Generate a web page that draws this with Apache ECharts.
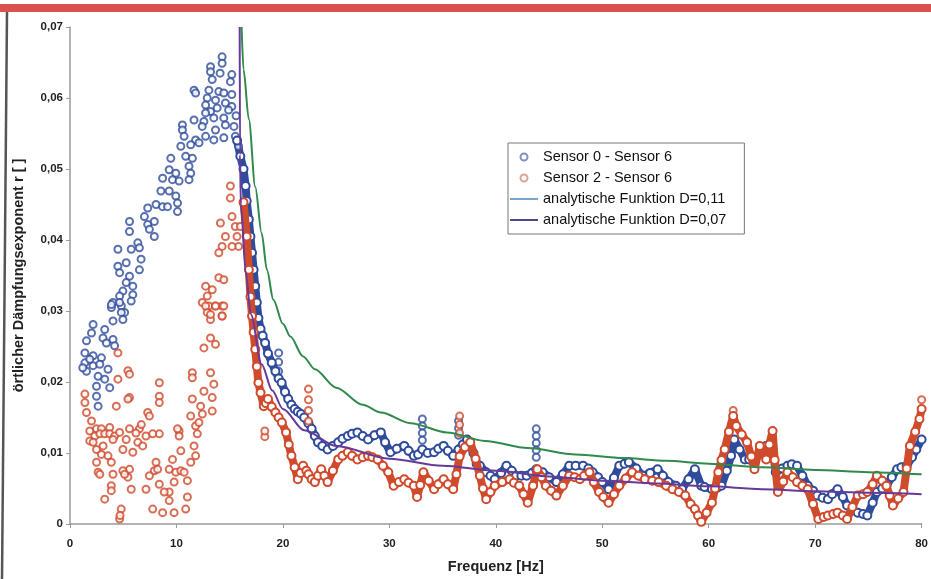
<!DOCTYPE html>
<html>
<head>
<meta charset="utf-8">
<script src="https://cdn.jsdelivr.net/npm/echarts@6/dist/echarts.min.js"></script>
<style>html,body{margin:0;padding:0;background:#fff;}#c{width:931px;height:579px;}</style>
</head>
<body>
<div id="c"></div>
<script>
// ---- data (frequency Hz, damping exponent r) ----
const seriesNames = ['Sensor 0 - Sensor 6', 'Sensor 2 - Sensor 6', 'analytische Funktion D=0,11', 'analytische Funktion D=0,07'];

const blueCloud = [
[14.29,0.0658],[14.29,0.0649],[13.2,0.0644],[13.2,0.0637],[14.1,0.0635],[13.36,0.0626],[15.2,0.0633],[15.07,0.0623],
[11.65,0.0611],[11.8,0.0607],[13.05,0.0611],[13.98,0.0609],[14.45,0.0607],[12.89,0.0600],[13.67,0.0597],[12.74,0.0590],
[14.6,0.0593],[15.2,0.0588],[14.9,0.0583],[13.82,0.0586],[13.2,0.0581],[12.74,0.0579],[11.65,0.0569],[12.58,0.0567],
[13.51,0.0572],[14.45,0.0572],[10.56,0.0562],[10.56,0.0555],[12.42,0.0560],[13.67,0.0555],[14.6,0.0562],[10.72,0.0546],
[11.8,0.0541],[12.74,0.0546],[13.51,0.0541],[14.45,0.0544],[10.41,0.0532],[11.34,0.0534],[12.12,0.0537],[9.47,0.0515],
[10.87,0.0518],[11.5,0.0515],[11.18,0.0504],[11.34,0.0494],[11.18,0.0485],[9.32,0.0499],[9.94,0.0494],[8.7,0.0487],
[9.63,0.0485],[10.25,0.0483],[8.54,0.0469],[9.32,0.0469],[9.94,0.0462],[8.08,0.0450],[8.7,0.0447],[9.16,0.0447],
[10.1,0.0452],[10.1,0.0440],[7.3,0.0445],[6.99,0.0433],[7.3,0.0422],[7.92,0.0426],[7.92,0.0405],[7.46,0.0415],
[5.59,0.0426],[5.59,0.0412],[6.37,0.0396],[6.52,0.0389],[5.75,0.0387],[4.5,0.0387],[6.68,0.0373],[4.5,0.0363],
[5.28,0.0368],[6.52,0.0358],[4.66,0.0354],[5.59,0.0349],[5.28,0.0340],[5.9,0.0335],[4.97,0.0328],[5.9,0.0323],
[4.66,0.0321],[4.04,0.0312],[3.89,0.0305],[4.82,0.0307],[5.13,0.0298],
[3.89,0.0309],[4.66,0.0312],[5.75,0.0314],[4.82,0.0298],[4.97,0.0288],[4.04,0.0286],[2.17,0.0281],[2.02,0.0269],
[3.26,0.0274],[3.1,0.0262],[4.04,0.0260],[4.19,0.0251],[1.55,0.0258],[3.42,0.0255],[1.4,0.0241],[2.17,0.0237],
[2.95,0.0234],[1.4,0.0227],[2.17,0.0223],[1.55,0.0215],[3.57,0.0218],[2.64,0.0208],[3.26,0.0204],[3.73,0.0192],
[2.49,0.0194],[2.49,0.0180],[2.64,0.0166],[1.86,0.0232],[1.2,0.0220],[2.8,0.0225],
[15.4,0.0560],[15.53,0.0546],[15.84,0.0532],[15.6,0.0575],[15.2,0.0605],
// spikes in the dense trace
[19.6,0.0241],[19.6,0.0228],[19.6,0.0215],[33.1,0.0148],[33.1,0.0138],[33.1,0.0128],[33.1,0.0118],
[36.5,0.0145],[36.5,0.0135],[36.5,0.0125],[43.8,0.0134],[43.8,0.0124],[43.8,0.0114],[43.8,0.0104],[43.8,0.0094]
];

const blueTrace = [
[15.7,0.0540],[16.0,0.0518],[16.3,0.0500],[16.5,0.0476],[16.6,0.0455],[16.8,0.0429],[16.95,0.0405],[17.1,0.0382],
[17.25,0.0358],[17.4,0.0335],[17.55,0.0312],[17.7,0.0290],[17.9,0.0275],[18.1,0.0265],[18.33,0.0255],[18.6,0.0240],
[18.95,0.0227],[19.3,0.0215],[19.6,0.0205],[19.88,0.0199],[20.2,0.0186],[20.5,0.0176],[20.8,0.0168],[21.1,0.0162],
[21.4,0.0158],[21.7,0.0155],[22.0,0.0150],[22.4,0.0142],[22.7,0.0134],[23.0,0.0124],[23.3,0.0115],[23.7,0.0110],
[24.2,0.0105],[24.7,0.0110],[25.2,0.0115],[25.6,0.0120],[26.1,0.0124],[26.5,0.0127],[27.0,0.0129],[27.5,0.0124],
[28.0,0.0119],[28.6,0.0125],[29.2,0.0129],[29.6,0.0115],[30.1,0.0101],[30.7,0.0106],[31.4,0.0110],[31.8,0.0103],
[32.3,0.0096],[32.7,0.0098],[33.1,0.0105],[33.6,0.0100],[34.2,0.0101],[34.6,0.0106],[35.1,0.0110],[35.5,0.0103],
[36.0,0.0096],[36.5,0.0105],[36.9,0.0112],[37.3,0.0119],[37.9,0.0100],[38.2,0.0085],[38.5,0.0082],[39.1,0.0073],
[39.5,0.0068],[39.9,0.0063],[40.5,0.0072],[41.0,0.0082],[41.5,0.0075],[41.9,0.0068],[42.4,0.0068],[42.9,0.0068],
[43.4,0.0072],[43.8,0.0077],[44.4,0.0073],[45.0,0.0066],[45.7,0.0059],[46.3,0.0070],[46.9,0.0082],[47.5,0.0082],
[48.2,0.0082],[48.7,0.0078],[49.1,0.0073],[49.6,0.0066],[50.0,0.0059],[50.6,0.0049],[51.1,0.0065],[51.6,0.0082],
[52.1,0.0085],[52.5,0.0087],[53.2,0.0078],[53.8,0.0068],[54.5,0.0072],[55.2,0.0077],[55.7,0.0068],[56.2,0.0059],
[56.9,0.0054],[57.5,0.0049],[58.1,0.0063],[58.7,0.0077],[59.3,0.0054],[59.6,0.0052],[60.3,0.0049],[60.8,0.0051],
[61.2,0.0054],[61.7,0.0075],[62.1,0.0096],[62.4,0.0119],[62.9,0.0105],[63.4,0.0091],[63.8,0.0091],[64.3,0.0091],
[64.9,0.0105],[65.4,0.0110],[65.9,0.0115],[66.3,0.0073],[66.9,0.0078],[67.4,0.0082],[67.8,0.0084],[68.3,0.0082],
[68.8,0.0068],[69.3,0.0054],[69.8,0.0047],[70.2,0.0040],[70.7,0.0037],[71.2,0.0035],[71.6,0.0042],[72.1,0.0049],
[72.6,0.0038],[73.0,0.0026],[73.5,0.0020],[74.0,0.0016],[74.5,0.0014],[74.9,0.0012],[75.4,0.0030],[75.8,0.0045],
[76.3,0.0050],[76.7,0.0054],[77.2,0.0066],[77.7,0.0077],[78.1,0.0080],[78.6,0.0082],[79.1,0.0094],[79.5,0.0105],
[80.0,0.0119]
];

const redCloud = [
[12.43,0.0312],[13.05,0.0307],[13.67,0.0307],[14.29,0.0307],[12.89,0.0298],[13.2,0.0288],[14.29,0.0293],[13.2,0.0262],
[13.67,0.0253],[12.58,0.0248],[11.49,0.0213],[11.49,0.0206],[13.2,0.0213],[13.51,0.0197],[12.58,0.0187],[13.36,0.0178],
[13.36,0.0159],[11.49,0.0176],[12.27,0.0166],[12.43,0.0155],[11.34,0.0152],[11.8,0.0138],[12.11,0.0143],[11.96,0.0127],
[11.65,0.0110],[11.8,0.0096],[11.34,0.0087],[10.41,0.0103],[10.25,0.0131],[10.25,0.0124],[10.1,0.0134],[9.63,0.0091],
[9.32,0.0077],[9.94,0.0073],[10.41,0.0075],[10.72,0.0073],[11.03,0.0061],[9.78,0.0059],[9.32,0.0045],[8.85,0.0045],
[11.03,0.0038],[10.87,0.0021],[9.32,0.0033],[9.78,0.0016],[8.7,0.0016],[7.77,0.0021],[8.39,0.0056],[8.08,0.0087],
[7.92,0.0075],[7.46,0.0068],[7.14,0.0049],[8.23,0.0077],[8.39,0.0199],[8.39,0.0180],[8.39,0.0171],[7.3,0.0157],
[7.46,0.0152],[6.52,0.0134],[7.14,0.0124],[8.39,0.0127],[6.37,0.0115],[5.9,0.0101],[5.59,0.0134],[5.28,0.0119],
[6.83,0.0110],[7.77,0.0127],[4.97,0.0105],[5.59,0.0077],[5.44,0.0066],[5.75,0.0049],[4.97,0.0075],[5.13,0.0070],
[4.5,0.0241],[5.44,0.0216],[5.59,0.0211],[4.5,0.0204],[5.59,0.0178],[5.44,0.0176],[4.35,0.0166],[2.49,0.0105],
[2.95,0.0098],[3.57,0.0096],[2.49,0.0087],[3.88,0.0087],[2.64,0.0073],[2.8,0.0070],[4.04,0.0070],[3.88,0.0054],
[3.88,0.0047],[3.26,0.0035],[4.81,0.0021],[4.66,0.0007],[4.7,0.0012],[1.4,0.0183],[1.4,0.0171],[1.55,0.0157],[2.02,0.0145],
[1.86,0.0131],[2.49,0.0134],[2.95,0.0134],[3.73,0.0136],[2.33,0.0124],[2.8,0.0127],[3.26,0.0127],[3.73,0.0127],
[4.19,0.0124],[4.66,0.0129],[1.86,0.0117],[2.17,0.0115],[3.11,0.0110],[4.04,0.0119],[6.2,0.0128],[6.7,0.0140],
[15.07,0.0476],[15.07,0.0459],[14.13,0.0424],[15.22,0.0433],[15.53,0.0419],[14.6,0.0405],[14.29,0.0391],[13.98,0.0382],
[15.69,0.0405],[15.84,0.0391],[16.0,0.0419],[15.22,0.0391],[12.74,0.0335],[12.89,0.0321],[13.98,0.0347],[14.45,0.0344],
[13.36,0.0330],[12.74,0.0307],[13.67,0.0307],[14.45,0.0307],[13.2,0.0295],[14.29,0.0293],
// spikes in the dense trace
[18.3,0.0123],[18.3,0.0131],[22.4,0.0190],[22.4,0.0175],[22.4,0.0160],[22.4,0.0145],[36.6,0.0152],[36.6,0.0140],
[36.6,0.0128],[62.3,0.0160],[80.0,0.0175]
];

const redTrace = [
[16.3,0.0453],[16.6,0.0405],[16.8,0.0358],[16.95,0.0320],[17.1,0.0293],[17.25,0.0270],[17.4,0.0246],[17.55,0.0222],
[17.7,0.0199],[17.9,0.0185],[18.2,0.0166],[18.4,0.0170],[18.6,0.0176],[18.95,0.0165],[19.3,0.0157],[19.6,0.0150],
[19.9,0.0143],[20.3,0.0129],[20.55,0.0112],[20.8,0.0096],[21.1,0.0080],[21.4,0.0063],[21.65,0.0072],[21.9,0.0082],
[22.2,0.0075],[22.4,0.0070],[22.7,0.0063],[23.0,0.0059],[23.3,0.0068],[23.6,0.0077],[23.9,0.0068],[24.2,0.0059],
[24.7,0.0075],[25.2,0.0091],[25.6,0.0096],[26.1,0.0101],[26.5,0.0096],[27.0,0.0091],[27.5,0.0094],[28.0,0.0096],
[28.4,0.0094],[28.9,0.0091],[29.4,0.0082],[29.9,0.0073],[30.4,0.0054],[30.9,0.0059],[31.4,0.0063],[31.8,0.0058],
[32.3,0.0054],[32.6,0.0038],[32.9,0.0055],[33.2,0.0073],[33.7,0.0061],[34.2,0.0049],[34.6,0.0056],[35.1,0.0063],
[35.5,0.0056],[36.0,0.0049],[36.3,0.0070],[36.6,0.0095],[37.1,0.0108],[37.6,0.0115],[38.1,0.0092],[38.5,0.0068],
[38.8,0.0050],[39.1,0.0035],[39.5,0.0045],[39.9,0.0054],[40.6,0.0059],[41.3,0.0063],[41.7,0.0058],[42.2,0.0054],
[42.6,0.0042],[43.0,0.0030],[43.5,0.0054],[43.9,0.0077],[44.3,0.0066],[44.7,0.0054],[45.2,0.0047],[45.7,0.0040],
[46.3,0.0054],[46.9,0.0068],[47.4,0.0066],[47.9,0.0063],[48.3,0.0068],[48.8,0.0073],[49.2,0.0059],[49.7,0.0045],
[50.1,0.0038],[50.6,0.0030],[51.1,0.0042],[51.6,0.0054],[52.2,0.0064],[52.8,0.0073],[53.4,0.0068],[54.0,0.0063],
[54.7,0.0061],[55.3,0.0059],[56.0,0.0054],[56.6,0.0049],[57.2,0.0045],[57.8,0.0040],[58.3,0.0028],[58.7,0.0021],
[59.0,0.0012],[59.3,0.0003],[59.8,0.0016],[60.3,0.0030],[60.6,0.0050],[60.9,0.0073],[61.2,0.0090],[61.5,0.0105],
[61.9,0.0130],[62.3,0.0152],[62.6,0.0138],[63.1,0.0126],[63.6,0.0115],[64.0,0.0095],[64.3,0.0077],[64.8,0.0110],
[65.4,0.0091],[65.7,0.0112],[66.0,0.0131],[66.2,0.0090],[66.5,0.0045],[67.0,0.0060],[67.4,0.0073],[67.9,0.0066],
[68.3,0.0059],[68.8,0.0054],[69.3,0.0049],[69.8,0.0028],[70.3,0.0007],[70.8,0.0010],[71.2,0.0012],[71.7,0.0014],
[72.1,0.0016],[72.6,0.0012],[73.0,0.0007],[73.5,0.0024],[74.0,0.0040],[74.5,0.0042],[74.9,0.0045],[75.4,0.0056],
[75.8,0.0068],[76.3,0.0061],[76.7,0.0054],[77.0,0.0040],[77.3,0.0026],[77.8,0.0036],[78.3,0.0045],[78.6,0.0078],
[78.9,0.0110],[79.4,0.0130],[79.8,0.0148],[80.0,0.0162]
];

const curveD011 = [
[16.12,0.0700],[16.3,0.0640],[16.8,0.0570],[17.4,0.0475],[18.0,0.0410],[18.5,0.0358],[19.1,0.0316],[20.0,0.0282],
[20.7,0.0264],[21.9,0.0236],[23.0,0.0218],[25.0,0.0192],[27.5,0.0168],[29.2,0.0157],[32.0,0.0142],[35.4,0.0129],
[39.0,0.0117],[43.0,0.0107],[47.5,0.0098],[52.0,0.0093],[56.0,0.0089],[60.0,0.0085],[65.0,0.0080],[70.0,0.0076],
[75.0,0.0073],[80.0,0.0070]
];

const curveD007 = [
[15.94,0.0700],[15.97,0.0520],[16.05,0.0450],[16.5,0.0355],[17.0,0.0295],[18.0,0.0225],[19.0,0.0188],[20.0,0.0162],
[22.0,0.0132],[25.0,0.0110],[30.0,0.0092],[35.0,0.0082],[40.0,0.0075],[45.0,0.0067],[50.0,0.0061],[55.0,0.0057],
[60.0,0.0053],[65.0,0.0049],[70.0,0.0046],[75.0,0.0044],[80.0,0.0042]
];

const xAxisTitle = 'Frequenz [Hz]';
const yAxisTitle = 'örtlicher Dämpfungsexponent r [ ]';

// ---- styling ----
const BLUE = '#2f4c9c', RED = '#d04a2c', GREEN = '#2f8a4c', PURPLE = '#66399a';
const FONT = '"Liberation Sans", Arial, sans-serif';
const LINE_ICON = 'path://M0,0H30V2H0Z';

const chart = echarts.init(document.getElementById('c'), null, {renderer: 'canvas'});
chart.setOption({
  animation: false,
  backgroundColor: '#fff',
  grid: {left: 70, right: 3, top: 27, bottom: 54, containLabel: false},
  graphic: [
    {type: 'rect', left: 0, top: 4, shape: {width: 931, height: 8}, style: {fill: '#d9544e'}, z: 10},
    {type: 'line', shape: {x1: 7, y1: 12, x2: 2, y2: 579}, style: {stroke: '#555', lineWidth: 2.5}, z: 10}
  ],
  legend: {
    orient: 'vertical', left: 508, top: 143,
    padding: [6, 18, 6, 2], itemGap: 5, itemWidth: 28, itemHeight: 7,
    borderColor: '#777', borderWidth: 1, backgroundColor: '#fff',
    textStyle: {fontFamily: FONT, fontSize: 14.5, color: '#111', lineHeight: 16},
    data: [
      {name: seriesNames[0], icon: 'emptyCircle', itemStyle: {color: '#6275ac', borderWidth: 2}},
      {name: seriesNames[1], icon: 'emptyCircle', itemStyle: {color: '#cf8f7c', borderWidth: 2}},
      {name: seriesNames[2], icon: LINE_ICON, itemStyle: {color: '#6f9fc6'}},
      {name: seriesNames[3], icon: LINE_ICON, itemStyle: {color: '#3d3b86'}}
    ]
  },
  xAxis: {
    type: 'value', min: 0, max: 80, interval: 10,
    name: xAxisTitle, nameLocation: 'middle', nameGap: 35,
    nameTextStyle: {fontFamily: FONT, fontSize: 14.5, fontWeight: 'bold', color: '#222'},
    axisLine: {lineStyle: {color: '#9a9a9a', width: 1.5}},
    axisTick: {show: true, length: 4, lineStyle: {color: '#9a9a9a'}},
    axisLabel: {fontFamily: FONT, fontSize: 11.5, fontWeight: 'bold', color: '#222', margin: 14},
    splitLine: {show: false}
  },
  yAxis: {
    type: 'value', min: 0, max: 0.07, interval: 0.01,
    name: yAxisTitle, nameLocation: 'middle', nameGap: 44,
    nameTextStyle: {fontFamily: FONT, fontSize: 14.5, fontWeight: 'bold', color: '#222'},
    axisLine: {show: true, lineStyle: {color: '#9a9a9a', width: 1.5}},
    axisTick: {show: true, length: 4, lineStyle: {color: '#9a9a9a'}},
    axisLabel: {fontFamily: FONT, fontSize: 11.5, fontWeight: 'bold', color: '#222', margin: 7,
      formatter: v => v === 0 ? '0' : v.toFixed(2).replace('.', ',')},
    splitLine: {show: false}
  },
  series: [
    {name: seriesNames[0], type: 'scatter', data: blueCloud, symbol: 'emptyCircle', symbolSize: 7,
     itemStyle: {color: BLUE, borderWidth: 2}, z: 2},
    {name: seriesNames[0], type: 'line', data: blueTrace, symbol: 'emptyCircle', symbolSize: 8, showSymbol: true,
     lineStyle: {color: BLUE, width: 8}, itemStyle: {color: BLUE, borderWidth: 2}, z: 2},
    {name: seriesNames[1], type: 'scatter', data: redCloud, symbol: 'emptyCircle', symbolSize: 7,
     itemStyle: {color: RED, borderWidth: 2}, z: 3},
    {name: seriesNames[1], type: 'line', data: redTrace, symbol: 'emptyCircle', symbolSize: 8, showSymbol: true,
     lineStyle: {color: RED, width: 8}, itemStyle: {color: RED, borderWidth: 2}, z: 3},
    {name: seriesNames[2], type: 'line', data: curveD011, symbol: 'none', smooth: 0.3, smoothMonotone: 'x',
     lineStyle: {color: GREEN, width: 2}, itemStyle: {color: GREEN}, z: 5},
    {name: seriesNames[3], type: 'line', data: curveD007, symbol: 'none', smooth: 0.3, smoothMonotone: 'x',
     lineStyle: {color: PURPLE, width: 2}, itemStyle: {color: PURPLE}, z: 5}
  ]
});
</script>
</body>
</html>
